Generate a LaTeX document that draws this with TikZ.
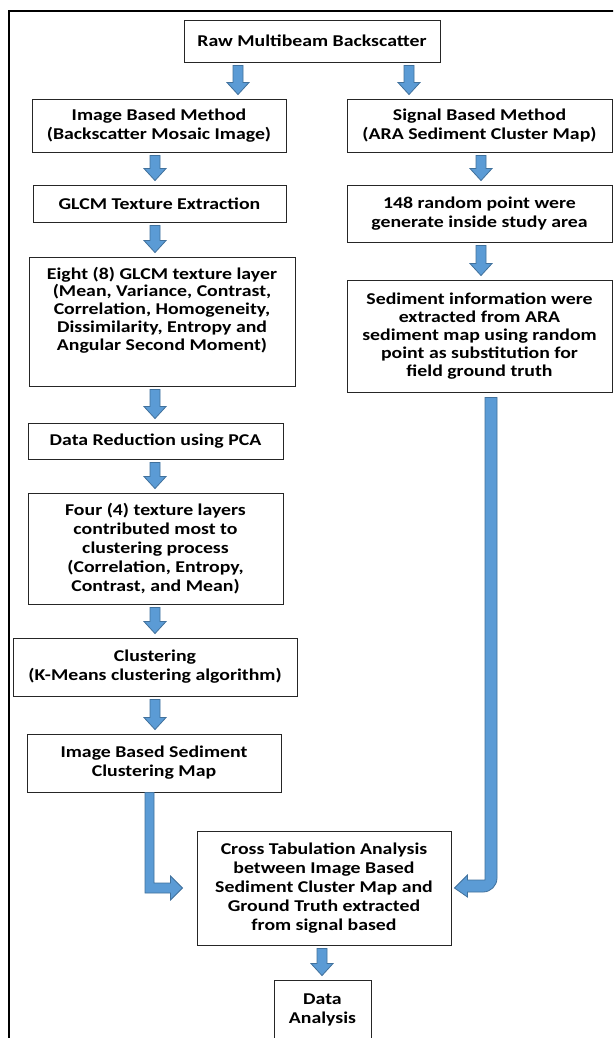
\documentclass[tikz,border=0pt]{standalone}
\usepackage{fontspec}
\setmainfont{Carlito}[FakeStretch=1.2]
\usetikzlibrary{calc}
\definecolor{arrowfill}{HTML}{5B9BD5}
\definecolor{arrowline}{HTML}{41719C}
\tikzset{
  box/.style={draw=black!85, line width=0.9pt, align=center, inner sep=0pt,
    font=\fontsize{16.5}{19}\selectfont\bfseries, text=black},
  txt/.style={align=center, inner sep=0pt,
    font=\fontsize{16.5}{19}\selectfont\bfseries, text=black},
  barrow/.style={fill=arrowfill, draw=arrowline, line width=0.8pt, line join=miter},
  frame/.style={draw=black, line width=2.6pt}
}
\newcommand\blockdn[3]{%
  \path[barrow] let \p1=(#2.south), \p2=(#3.north) in
    (#1pt-5pt,\y1-3pt) -- (#1pt+5pt,\y1-3pt) -- (#1pt+5pt,\y2+16pt) --
    (#1pt+11pt,\y2+16pt) -- (#1pt,\y2+4pt) -- (#1pt-11pt,\y2+16pt) --
    (#1pt-5pt,\y2+16pt) -- cycle;}
\begin{document}
\begin{tikzpicture}[x=1pt,y=-1pt]
\useasboundingbox (0,0) rectangle (613,1038);
\clip (0,0) rectangle (613,1038);
\fill[white] (0,0) rectangle (613,1038);
\draw[frame] (9,1050) -- (9,11) -- (625,11);

\node[box, minimum width=256, minimum height=42] (raw) at (312,41) {Raw Multibeam Backscatter};
\node[box, minimum width=254, minimum height=53] (img) at (159,125.5) {Image Based Method\\(Backscatter Mosaic Image)};
\node[box, minimum width=265, minimum height=53] (sig) at (479.5,125.5) {Signal Based Method\\(ARA Sediment Cluster Map)};
\node[box, minimum width=253, minimum height=37] (glcm) at (159.5,203.5) {GLCM Texture Extraction};
\node[box, minimum width=265, minimum height=57] (rand) at (479.5,213.5) {148 random point were\\generate inside study area};
\node[box, minimum width=266, minimum height=129] (eight) at (162,321.5) {};
\node[txt, font=\fontsize{16.5}{17.8}\selectfont\bfseries] (eighttxt) at (162,310) {Eight (8) GLCM texture layer\\(Mean, Variance, Contrast,\\Correlation, Homogeneity,\\Dissimilarity, Entropy and\\Angular Second Moment)};
\node[box, minimum width=265, minimum height=112, font=\fontsize{16.5}{18}\selectfont\bfseries] (sed) at (479.5,336) {Sediment information were\\extracted from ARA\\sediment map using random\\point as substitution for\\field ground truth};
\node[box, minimum width=255, minimum height=36] (dr) at (155.5,441) {Data Reduction using PCA};
\node[box, minimum width=255, minimum height=111] (four) at (155.5,548.5) {Four (4) texture layers\\contributed most to\\clustering process\\(Correlation, Entropy,\\Contrast, and Mean)};
\node[box, minimum width=284, minimum height=58] (clus) at (155,667) {Clustering\\(K-Means clustering algorithm)};
\node[box, minimum width=254, minimum height=58] (imsed) at (154,763) {Image Based Sediment\\Clustering Map};
\node[box, minimum width=254, minimum height=114] (cross) at (324,888) {Cross Tabulation Analysis\\between Image Based\\Sediment Cluster Map and\\Ground Truth extracted\\from signal based};
\node[box, minimum width=97, minimum height=82] (data) at (322.5,1021) {};
\node[txt] (datatxt) at (322.5,1009.5) {Data\\Analysis};

\blockdn{238}{raw}{img}
\blockdn{409}{raw}{sig}
\blockdn{155}{img}{glcm}
\blockdn{481}{sig}{rand}
\blockdn{155}{glcm}{eight}
\blockdn{481}{rand}{sed}
\blockdn{155}{eight}{dr}
\blockdn{155}{dr}{four}
\blockdn{155}{four}{clus}
\blockdn{155}{clus}{imsed}
\blockdn{322}{cross}{data}

\path[barrow] let \p1=(imsed.south), \p2=(cross.west) in
  (145pt,\y1) -- (154pt,\y1) -- (154pt,\y2+5pt) -- (\x2-26pt,\y2+5pt) --
  (\x2-26pt,\y2+12pt) -- (\x2-14pt,\y2) -- (\x2-26pt,\y2-12pt) --
  (\x2-26pt,\y2-5pt) -- (145pt,\y2-5pt) -- cycle;

\path[barrow] let \p1=(sed.south), \p2=(cross.east) in
  (485pt,\y1-5pt) -- (497pt,\y1-5pt) -- (497pt,\y2+10pt)
  arc[start angle=0, end angle=-90, radius=14pt] --
  (\x2+16pt,\y2-4pt) -- (\x2+16pt,\y2-9pt) -- (\x2+3pt,\y2) --
  (\x2+16pt,\y2+13pt) -- (\x2+16pt,\y2+8pt) -- (485pt,\y2+8pt) -- cycle;
\end{tikzpicture}
\end{document}
